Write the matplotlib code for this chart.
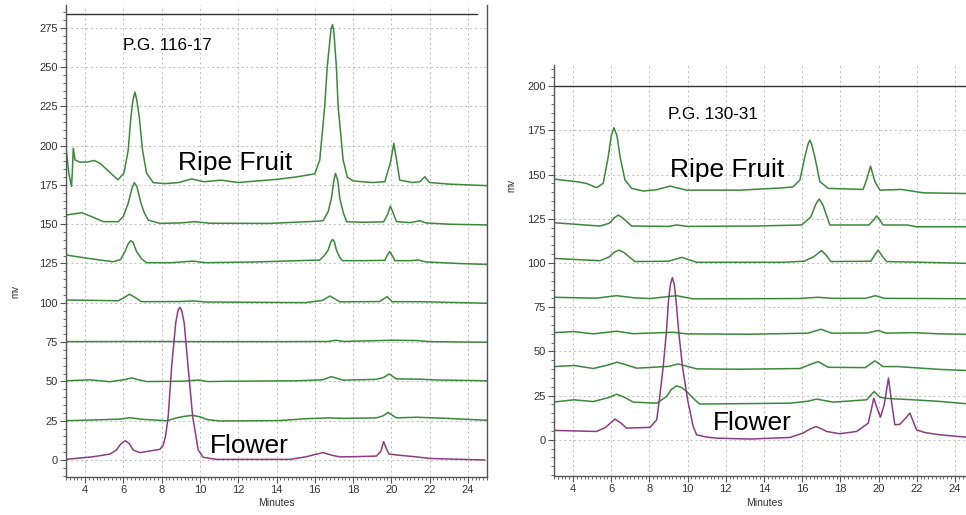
import matplotlib.pyplot as plt
from matplotlib.ticker import MultipleLocator

plt.rcParams['font.family'] = ['Liberation Sans', 'DejaVu Sans']

# ---- left panel: P.G. 116-17 ----
l_ripe_x = [3.0, 3.15, 3.29, 3.34, 3.38, 3.47, 3.7, 4.1, 4.48, 4.8, 5.2, 5.71, 6.03, 6.25, 6.39, 6.5,
            6.6, 6.7, 6.83, 7.0, 7.21, 7.56, 8.2, 8.9, 9.56, 10.2, 11.1, 12.0, 13.0, 14.0, 15.0, 16.0,
            16.26, 16.52, 16.65, 16.85, 16.93, 17.0, 17.13, 17.22, 17.48, 17.7, 18.0, 19.0, 19.66, 19.95,
            20.13, 20.3, 20.44, 21.1, 21.5, 21.75, 22.0, 23.0, 24.0, 25.0]
l_ripe_y = [198.7, 182, 174, 186, 198.3, 190.9, 189.5, 189.5, 190.5, 188.5, 184, 178.2, 182.5, 197, 218, 229,
            234, 229, 218, 197, 182.5, 176.4, 175.8, 176.5, 178.8, 177, 178, 176.5, 177.5, 178.5, 180, 182,
            190.8, 225, 250, 274, 277, 272, 250, 225, 191, 180, 177.5, 176.5, 177, 189,
            201.4, 189, 178, 176.5, 177, 180.2, 176.5, 175.5, 175, 174.5]

l_150_x = [3.0, 3.82, 4.4, 4.95, 5.73, 6.0, 6.25, 6.45, 6.57, 6.7, 6.92, 7.1, 7.3, 7.9, 9.0, 9.74, 10.5,
           13.65, 16.0, 16.44, 16.7, 16.87, 17.0, 17.08, 17.2, 17.31, 17.5, 17.66, 18.5, 19.6, 19.8, 19.95,
           20.1, 20.27, 21.0, 21.49, 21.8, 23.0, 25.0]
l_150_y = [155.8, 157.3, 154.5, 151.6, 151.6, 155, 163.3, 173, 176.4, 174, 163.3, 157, 152.6, 150.5, 150.8,
           151.6, 150.6, 150.5, 151.8, 152.2, 158, 166.4, 178, 182.3, 178, 166.4, 157, 151.6, 151.2, 151.5,
           156, 161.5, 157, 151.6, 151, 152.2, 150.8, 150, 149.5]

l_125_x = [3.0, 4.3, 5.47, 5.85, 6.08, 6.25, 6.38, 6.5, 6.69, 6.95, 7.21, 8.5, 9.63, 10.3, 13.0, 16.26,
           16.5, 16.7, 16.85, 16.93, 17.02, 17.13, 17.3, 17.45, 18.5, 19.66, 19.8, 19.92, 20.05, 20.18,
           21.0, 21.4, 21.8, 23.5, 25.0]
l_125_y = [130.4, 128, 126.1, 127.5, 132.5, 137.5, 139.5, 138.5, 132.5, 128, 125.5, 125.5, 126.5, 125.5,
           126, 127.2, 130, 133.6, 139, 140.3, 139, 133.6, 129, 126.8, 126.8, 127, 130.5, 132.5, 130, 126.8,
           126.8, 127.2, 126, 125, 124.4]

l_100_x = [3.0, 5.73, 6.0, 6.31, 6.6, 6.95, 9.0, 9.65, 10.3, 15.5, 16.4, 16.79, 17.05, 17.31, 19.4, 19.78,
           20.05, 21.5, 25.0]
l_100_y = [101.8, 101.3, 103, 105.4, 103.5, 100.7, 100.8, 101.2, 100.5, 100.1, 101.5, 104.3, 102.5, 100.6,
           100.8, 103.9, 100.7, 100.7, 99.7]

l_75_x = [3.0, 7.0, 10.0, 14.0, 16.7, 17.1, 17.5, 19.5, 20.0, 21.3, 22.0, 25.0]
l_75_y = [75.3, 75.4, 75.3, 75.3, 75.4, 76.2, 75.4, 76.0, 76.2, 76.0, 75.3, 74.9]

l_50_x = [3.0, 4.25, 5.3, 6.0, 6.43, 6.8, 7.21, 9.13, 9.91, 10.4, 11.56, 15.05, 16.4, 16.87, 17.48,
          19.22, 19.6, 19.88, 20.27, 21.49, 22.36, 25.0]
l_50_y = [50.4, 51.0, 49.8, 51.0, 52.2, 51.0, 49.9, 50.1, 50.9, 49.9, 50.1, 50.4, 51.0, 53.0, 50.8,
          51.3, 52.5, 54.7, 51.6, 51.4, 50.9, 50.4]

l_25_x = [3.0, 4.78, 5.8, 6.34, 6.9, 7.39, 8.26, 8.78, 9.2, 9.62, 10.0, 10.35, 11.04, 14.17, 15.57, 16.79,
          17.48, 19.22, 19.55, 19.83, 20.05, 20.27, 21.31, 22.88, 24.79, 25.0]
l_25_y = [25.0, 25.6, 26.0, 26.9, 26.0, 25.6, 25.0, 26.8, 27.8, 28.4, 27.5, 25.8, 24.8, 25.1, 26.3, 26.8,
          26.5, 26.8, 28.0, 30.3, 28.5, 26.8, 27.2, 26.5, 25.4, 25.3]

l_flower_x = [2.98, 4.43, 5.3, 5.64, 5.85, 6.09, 6.3, 6.51, 6.86, 7.91, 8.08, 8.2, 8.34, 8.52, 8.73,
              8.85, 8.95, 9.05, 9.18, 9.38, 9.62, 9.91, 10.17, 10.87, 14.7, 15.57, 16.0, 16.44, 16.9,
              17.31, 18.0, 19.22, 19.45, 19.6, 19.75, 19.88, 20.44, 21.31, 22.0, 24.88]
l_flower_y = [0.4, 2.1, 3.8, 6.4, 10.0, 12.3, 10.5, 6.4, 4.7, 6.8, 9.5, 15.0, 27.6, 59.3, 86.9,
              95.0, 97.1, 95.0, 86.9, 59.3, 27.6, 6.4, 1.7, 0.4, 0.4, 2.1, 3.5, 4.7, 3.0,
              2.0, 2.1, 2.5, 5.5, 11.7, 7.0, 3.8, 3.0, 2.0, 1.0, 0.0]

# ---- right panel: P.G. 130-31 ----
r_ripe_x = [2.96, 4.19, 4.7, 5.23, 5.58, 5.84, 6.0, 6.14, 6.3, 6.46, 6.72, 7.07, 7.68, 8.4, 9.07, 9.95,
            12.74, 15.0, 15.53, 15.88, 16.14, 16.3, 16.4, 16.5, 16.66, 16.93, 17.36, 19.19, 19.37, 19.58,
            19.81, 20.07, 21.2, 22.34, 24.6]
r_ripe_y = [147.5, 146.0, 145.0, 142.6, 145.1, 160.1, 172, 176.5, 172, 160.1, 146.9, 142.2, 140.7, 141.5,
            143.5, 141.2, 141.2, 142.5, 143.1, 146.9, 160.1, 167, 169.5, 167, 160.1, 146.0, 142.2, 141.6,
            146.9, 154.8, 146.0, 141.2, 141.6, 139.7, 139.3]

r_120_x = [2.96, 5.41, 5.9, 6.15, 6.37, 6.6, 7.07, 9.0, 9.42, 10.0, 13.5, 15.97, 16.45, 16.7, 16.89,
           17.08, 17.45, 19.5, 19.75, 19.9, 20.05, 20.24, 21.47, 22.0, 24.6]
r_120_y = [122.8, 120.9, 122.5, 125.5, 127.1, 125.5, 120.9, 120.7, 121.5, 120.7, 120.9, 121.5, 126, 133,
           136.2, 133, 121.5, 121.5, 124.5, 126.6, 124.5, 121.5, 121.5, 120.5, 120.5]

r_100_x = [2.96, 5.41, 5.9, 6.15, 6.4, 6.65, 7.24, 9.0, 9.69, 10.47, 15.0, 16.1, 16.6, 17.02, 17.25, 17.5,
           19.6, 19.8, 19.98, 20.15, 20.42, 22.25, 24.6]
r_100_y = [102.6, 101.3, 103.5, 106, 107.3, 106, 100.8, 101, 103.2, 100.4, 100.4, 101, 103.5, 107, 104.5,
           100.8, 101, 104.5, 107.3, 104.5, 100.8, 100.4, 99.8]

r_80_x = [2.96, 5.2, 6.28, 7.2, 8.03, 9.42, 10.29, 15.8, 16.84, 17.6, 19.3, 19.84, 20.3, 24.6]
r_80_y = [80.6, 80.1, 81.5, 80.3, 79.9, 81.5, 79.7, 79.9, 80.6, 80.0, 80.0, 81.5, 80.0, 79.8]

r_60_x = [2.96, 4.05, 5.06, 6.28, 7.15, 9.25, 9.95, 13.26, 16.3, 16.98, 17.54, 19.4, 19.98, 20.4, 21.81,
          23.21, 24.57]
r_60_y = [60.6, 61.2, 59.9, 61.4, 60.0, 60.8, 59.9, 59.7, 60.3, 62.5, 60.3, 60.4, 61.8, 60.3, 60.6,
          59.9, 59.7]

r_40_x = [2.96, 4.05, 5.06, 5.9, 6.31, 6.8, 7.33, 9.0, 9.51, 10.47, 12.74, 15.88, 16.4, 16.84, 17.36,
          19.3, 19.81, 20.24, 21.0, 23.21, 24.57]
r_40_y = [41.4, 42.0, 40.3, 42.5, 43.9, 42.3, 40.5, 41.5, 42.9, 40.1, 39.9, 40.3, 42.5, 44.2, 41.0,
          40.8, 44.6, 41.4, 41.4, 39.8, 39.2]

r_20_x = [2.96, 4.05, 5.06, 5.9, 6.28, 6.7, 7.15, 8.38, 8.9, 9.15, 9.42, 9.7, 9.95, 10.47, 10.64,
          15.36, 16.3, 16.75, 17.62, 19.37, 19.77, 20.07, 20.42, 21.81, 23.21, 24.57]
r_20_y = [21.3, 22.6, 21.6, 24.0, 25.8, 24.0, 21.3, 20.7, 24.5, 28.5, 30.5, 29.5, 27.3, 21.6, 20.2,
          20.7, 21.8, 23.0, 21.3, 22.6, 27.3, 24.1, 23.4, 22.6, 21.7, 20.4]

r_flower_x = [2.96, 5.23, 5.7, 6.19, 6.5, 6.8, 8.03, 8.38, 8.52, 8.72, 8.88, 9.0, 9.1, 9.2, 9.3, 9.39,
              9.54, 9.73, 10.0, 10.29, 10.47, 11.0, 11.52, 13.26, 15.36, 16.05, 16.4, 16.72, 17.0, 17.28,
              17.97, 18.85, 19.46, 19.6, 19.75, 19.92, 20.1, 20.3, 20.52, 20.7, 20.85, 21.11, 21.4, 21.64,
              21.99, 22.42, 23.21, 24.57]
r_flower_y = [5.3, 4.7, 7.0, 11.7, 9.5, 6.6, 7.0, 11.3, 22.6, 41.4, 60.0, 79.0, 88.0, 91.7, 88.0, 79.0,
              60.3, 41.4, 22.6, 7.5, 2.8, 1.5, 0.9, 0.4, 1.3, 3.8, 6.0, 7.5, 6.2, 4.7,
              3.4, 4.7, 9.4, 16.0, 23.5, 18.0, 12.8, 20.0, 34.9, 20.0, 8.5, 8.7, 12.0, 15.1,
              5.6, 4.1, 2.8, 1.5]

left_traces = [(l_ripe_x, l_ripe_y), (l_150_x, l_150_y), (l_125_x, l_125_y), (l_100_x, l_100_y),
               (l_75_x, l_75_y), (l_50_x, l_50_y), (l_25_x, l_25_y)]
right_traces = [(r_ripe_x, r_ripe_y), (r_120_x, r_120_y), (r_100_x, r_100_y), (r_80_x, r_80_y),
                (r_60_x, r_60_y), (r_40_x, r_40_y), (r_20_x, r_20_y)]

left_yticks = list(range(0, 276, 25))
right_yticks = list(range(0, 201, 25))
xticks = list(range(4, 25, 2))

green = '#3a883a'
purple = '#8c3c82'
gridc = '#bdbdbd'
axc = '#555555'

W, H = 966, 515
fig = plt.figure(figsize=(W / 100, H / 100), dpi=100)

ax1 = fig.add_axes([66 / W, 1 - 477 / H, 421 / W, 472 / H])
ax2 = fig.add_axes([554 / W, 1 - 476 / H, 420 / W, 411 / H])


def style(ax, yticks, ylim, xlim):
    ax.set_xlim(*xlim)
    ax.set_ylim(*ylim)
    ax.set_xticks(xticks)
    ax.set_yticks(yticks)
    ax.xaxis.set_minor_locator(MultipleLocator(0.2))
    ax.yaxis.set_minor_locator(MultipleLocator(5))
    ax.grid(True, which='major', color=gridc, linestyle=(0, (2, 3)), linewidth=0.7)
    ax.tick_params(which='major', length=4, width=0.8, color=axc, labelsize=8, labelcolor='#333333', pad=2)
    ax.tick_params(which='minor', length=2, width=0.6, color=axc)
    ax.spines['top'].set_visible(False)
    for s in ['left', 'right', 'bottom']:
        ax.spines[s].set_color(axc)
        ax.spines[s].set_linewidth(1.0)
    ax.set_axisbelow(True)


style(ax1, left_yticks, (-10.8, 289.4), (3, 25))
style(ax2, right_yticks, (-20.5, 212), (3, 25))

for xs, ys in left_traces:
    ax1.plot(xs, ys, color=green, lw=1.1)
ax1.plot(l_flower_x, l_flower_y, color=purple, lw=1.1)
ax1.plot([3, 24.5], [283.7, 283.7], color='#333333', lw=1.0)

for xs, ys in right_traces:
    ax2.plot(xs, ys, color=green, lw=1.1)
ax2.plot(r_flower_x, r_flower_y, color=purple, lw=1.1)
ax2.axhline(200, color='#333333', lw=1.0)

ax1.text(5.96, 260.8, 'P.G. 116-17', fontsize=12.3, va='baseline')
ax1.text(8.85, 184.4, 'Ripe Fruit', fontsize=19, va='baseline')
ax1.text(10.52, 4.3, 'Flower', fontsize=19, va='baseline')

ax2.text(8.98, 181.2, 'P.G. 130-31', fontsize=12.3, va='baseline')
ax2.text(9.07, 148.4, 'Ripe Fruit', fontsize=19, va='baseline')
ax2.text(11.32, 5.3, 'Flower', fontsize=19, va='baseline')

fig.text(15 / W, 1 - 292 / H, 'mv', fontsize=7, rotation=90, ha='center', va='center', color='#333333')
fig.text(511 / W, 1 - 186 / H, 'mv', fontsize=7, rotation=90, ha='center', va='center', color='#333333')
fig.text(276 / W, 1 - 503 / H, 'Minutes', fontsize=7.5, ha='center', va='center', color='#333333')
fig.text(764 / W, 1 - 503 / H, 'Minutes', fontsize=7.5, ha='center', va='center', color='#333333')

fig.savefig('out.png', dpi=100)
